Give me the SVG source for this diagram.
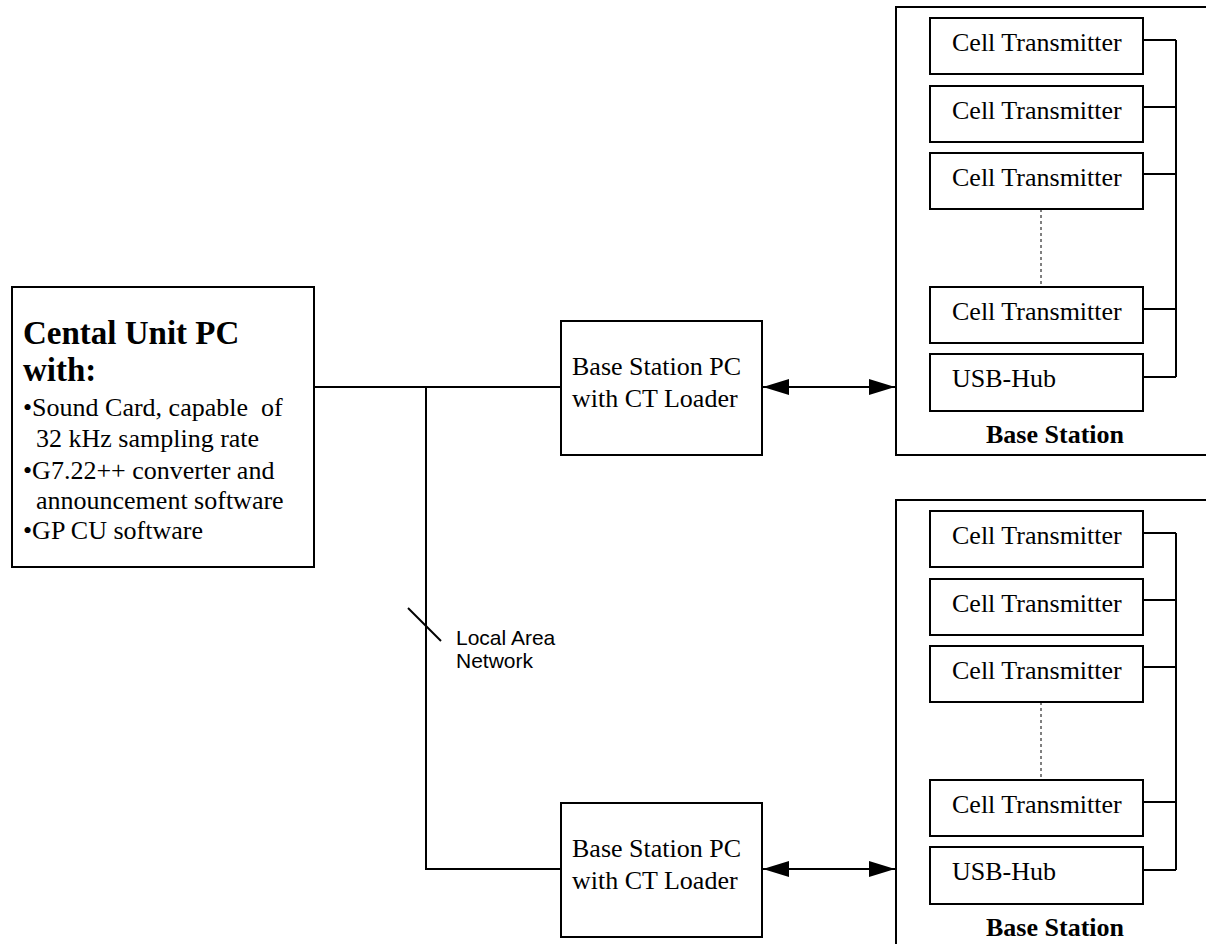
<svg xmlns="http://www.w3.org/2000/svg" width="1206" height="944" viewBox="0 0 1206 944">
<style>
.box{fill:#fff;stroke:#000;stroke-width:2}
.ln{fill:none;stroke:#000;stroke-width:2}
.dot{fill:none;stroke:#000;stroke-width:1;stroke-dasharray:3 3}
.t{font-family:"Liberation Serif","Times New Roman",serif;font-size:26px;fill:#000}
.b{font-family:"Liberation Serif","Times New Roman",serif;font-size:26px;font-weight:bold;fill:#000}
.h{font-family:"Liberation Serif","Times New Roman",serif;font-size:33px;font-weight:bold;fill:#000}
.s{font-family:"Liberation Sans",Arial,sans-serif;font-size:21px;fill:#000}
</style>
<defs>
<marker id="ah" markerUnits="userSpaceOnUse" markerWidth="27" markerHeight="18" refX="26" refY="8" orient="auto-start-reverse" viewBox="0 0 27 16">
<path d="M0,0 L26,8 L0,16 Z" fill="#000"/>
</marker>
</defs>
<rect width="1206" height="944" fill="#fff"/>

<g id="connectors">
<path class="ln" d="M314,387 H561"/>
<path class="ln" d="M426,387 V869 H561"/>
<path class="ln" d="M408,608 L441,641"/>
<path class="ln" d="M763,387 H895" marker-start="url(#ah)" marker-end="url(#ah)"/>
<path class="ln" d="M763,869 H895" marker-start="url(#ah)" marker-end="url(#ah)"/>
</g>

<g id="central-unit">
<rect class="box" x="12" y="287" width="302" height="280"/>
<text class="h" x="23" y="344">Cental Unit PC</text>
<text class="h" x="23" y="381">with:</text>
<text class="t" x="23" y="416" xml:space="preserve">•Sound Card, capable  of</text>
<text class="t" x="36" y="447">32 kHz sampling rate</text>
<text class="t" x="23" y="479">•G7.22++ converter and</text>
<text class="t" x="36" y="509">announcement software</text>
<text class="t" x="23" y="539">•GP CU software</text>
</g>

<g id="lan-label">
<text class="s" x="456" y="645">Local Area</text>
<text class="s" x="456" y="668">Network</text>
</g>

<g id="base-pc-1">
<rect class="box" x="561" y="321" width="201" height="134"/>
<text class="t" x="572" y="375">Base Station PC</text>
<text class="t" x="572" y="407">with CT Loader</text>
</g>

<g id="base-pc-2">
<rect class="box" x="561" y="803" width="201" height="134"/>
<text class="t" x="572" y="857">Base Station PC</text>
<text class="t" x="572" y="889">with CT Loader</text>
</g>

<g id="base-station-1">
<rect class="box" x="896" y="7" width="330" height="448"/>
<path class="ln" d="M1143,40 H1176 M1143,107 H1176 M1143,174 H1176 M1143,309 H1176 M1143,377 H1176 M1176,40 V377"/>
<path class="dot" d="M1041,209 V287"/>
<g id="ct-1-1"><rect class="box" x="930" y="18" width="213" height="56"/><text class="t" x="952" y="51">Cell Transmitter</text></g>
<g id="ct-1-2"><rect class="box" x="930" y="86" width="213" height="56"/><text class="t" x="952" y="119">Cell Transmitter</text></g>
<g id="ct-1-3"><rect class="box" x="930" y="153" width="213" height="56"/><text class="t" x="952" y="186">Cell Transmitter</text></g>
<g id="ct-1-4"><rect class="box" x="930" y="287" width="213" height="56"/><text class="t" x="952" y="320">Cell Transmitter</text></g>
<g id="usb-1"><rect class="box" x="930" y="354" width="213" height="57"/><text class="t" x="952" y="387">USB-Hub</text></g>
<text class="b" x="1055" y="443" text-anchor="middle">Base Station</text>
</g>

<g id="base-station-2">
<rect class="box" x="896" y="500" width="330" height="460"/>
<path class="ln" d="M1143,533 H1176 M1143,600 H1176 M1143,667 H1176 M1143,802 H1176 M1143,870 H1176 M1176,533 V870"/>
<path class="dot" d="M1041,702 V780"/>
<g id="ct-2-1"><rect class="box" x="930" y="511" width="213" height="56"/><text class="t" x="952" y="544">Cell Transmitter</text></g>
<g id="ct-2-2"><rect class="box" x="930" y="579" width="213" height="56"/><text class="t" x="952" y="612">Cell Transmitter</text></g>
<g id="ct-2-3"><rect class="box" x="930" y="646" width="213" height="56"/><text class="t" x="952" y="679">Cell Transmitter</text></g>
<g id="ct-2-4"><rect class="box" x="930" y="780" width="213" height="56"/><text class="t" x="952" y="813">Cell Transmitter</text></g>
<g id="usb-2"><rect class="box" x="930" y="847" width="213" height="57"/><text class="t" x="952" y="880">USB-Hub</text></g>
<text class="b" x="1055" y="936" text-anchor="middle">Base Station</text>
</g>
</svg>
